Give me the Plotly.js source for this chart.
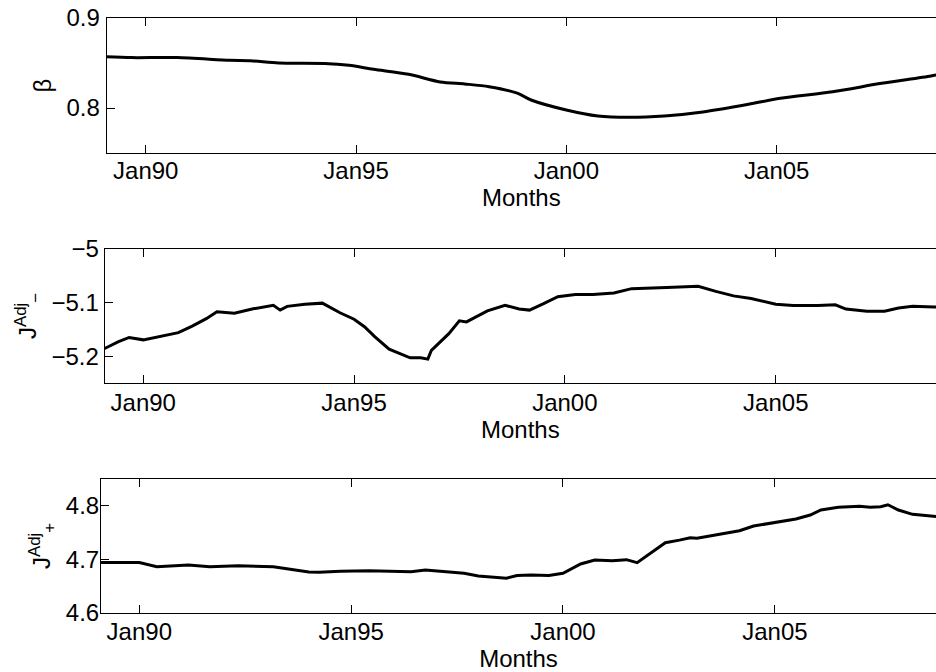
<!DOCTYPE html>
<html>
<head>
<meta charset="utf-8">
<script src="https://cdn.plot.ly/plotly-3.0.1.min.js"></script>
<style>html,body{margin:0;padding:0;background:#fff;}#chart{width:936px;height:672px;}</style>
</head>
<body>
<div id="chart"></div>
<script>
// ---- data ----
const betaDates = ['1989-01','1989-09','1990-10','1992-01','1992-07','1993-03','1994-04','1994-11','1995-06','1996-04','1997-01','1997-08','1998-03','1998-11','1999-03','2000-01','2000-10','2001-07','2002-05','2003-04','2004-05','2005-02','2006-05','2007-07','2008-09','2008-12'];
const betaValues = [0.857,0.856,0.856,0.853,0.8525,0.850,0.8495,0.8474,0.843,0.8374,0.829,0.8267,0.8237,0.8165,0.8089,0.7978,0.7911,0.7896,0.7911,0.7956,0.8041,0.8108,0.8181,0.8274,0.8356,0.838];

const jMinusDates = ['1989-01','1989-02','1989-06','1989-09','1990-01','1990-07','1990-11','1991-03','1991-07','1991-10','1992-03','1992-08','1993-02','1993-04','1993-06','1993-11','1994-04','1994-09','1995-01','1995-04','1995-07','1995-11','1996-05','1996-08','1996-10','1996-11','1997-04','1997-07','1997-09','1998-03','1998-08','1998-12','1999-03','1999-07','1999-11','2000-04','2000-09','2001-03','2001-08','2002-06','2003-03','2003-08','2004-01','2004-06','2005-01','2005-06','2006-01','2006-06','2006-09','2007-03','2007-08','2007-12','2008-04','2008-10','2008-12'];
const jMinusValues = [-5.188,-5.1856,-5.173,-5.165,-5.1695,-5.162,-5.156,-5.144,-5.130,-5.117,-5.120,-5.112,-5.105,-5.114,-5.107,-5.103,-5.101,-5.119,-5.131,-5.145,-5.164,-5.187,-5.203,-5.203,-5.2055,-5.189,-5.158,-5.134,-5.136,-5.1155,-5.105,-5.112,-5.114,-5.102,-5.089,-5.085,-5.085,-5.082,-5.074,-5.072,-5.0695,-5.079,-5.0875,-5.0925,-5.103,-5.1055,-5.1055,-5.104,-5.112,-5.116,-5.116,-5.110,-5.107,-5.108,-5.108];

const jPlusDates = ['1989-01','1990-01','1990-06','1991-03','1991-09','1992-05','1993-03','1993-07','1994-01','1994-04','1994-10','1995-06','1996-01','1996-06','1996-10','1997-03','1997-09','1998-01','1998-06','1998-09','1998-12','1999-04','1999-09','2000-01','2000-06','2000-10','2001-03','2001-07','2001-10','2002-01','2002-06','2002-10','2003-01','2003-03','2003-09','2004-03','2004-07','2005-01','2005-07','2005-11','2006-02','2006-07','2007-01','2007-04','2007-07','2007-09','2007-12','2008-04','2008-10','2008-12'];
const jPlusValues = [4.694,4.694,4.6864,4.6896,4.6864,4.688,4.6864,4.682,4.6765,4.676,4.678,4.679,4.678,4.677,4.680,4.677,4.674,4.669,4.666,4.665,4.670,4.671,4.670,4.674,4.6914,4.699,4.6976,4.6995,4.694,4.708,4.731,4.736,4.7405,4.7394,4.7468,4.7536,4.7623,4.7685,4.7754,4.7828,4.7922,4.7972,4.799,4.7972,4.7983,4.802,4.7922,4.7841,4.7797,4.779];

const xTickVals = ['1990-01-01','1995-01-01','2000-01-01','2005-01-01'];
const xTickText = ['Jan90','Jan95','Jan00','Jan05'];
const betaTicks = [0.8, 0.9];
const jMinusTicks = [-5.2, -5.1, -5];
const jPlusTicks = [4.6, 4.7, 4.8];

const xTitle = 'Months';
const yTitles = ['β', 'J<sup>Adj</sup><sub>−</sub>', 'J<sup>Adj</sup><sub>+</sub>'];

// ---- drawing ----
const fam = 'Liberation Sans, Arial, Helvetica, sans-serif';
const tickFont = {family: fam, size: 24, color: '#000'};
const titleFont = {family: fam, size: 24, color: '#000'};
const lineStyle = {color: '#000', width: 3};

const traces = [
  {x: betaDates, y: betaValues, xaxis: 'x', yaxis: 'y', type: 'scatter', mode: 'lines', line: Object.assign({shape: 'spline', smoothing: 0.8}, lineStyle)},
  {x: jMinusDates, y: jMinusValues, xaxis: 'x2', yaxis: 'y2', type: 'scatter', mode: 'lines', line: lineStyle},
  {x: jPlusDates, y: jPlusValues, xaxis: 'x3', yaxis: 'y3', type: 'scatter', mode: 'lines', line: lineStyle}
];

function xAxis(domain, range, anchor, standoff) {
  return {
    domain: domain, range: range, type: 'date', anchor: anchor,
    tickmode: 'array', tickvals: xTickVals, ticktext: xTickText,
    ticks: 'inside', ticklen: 8, tickwidth: 1, tickcolor: '#000',
    showline: true, linecolor: '#000', linewidth: 1, mirror: 'ticks',
    showgrid: false, zeroline: false, tickfont: tickFont,
    ticklabelstandoff: standoff,
    title: {text: xTitle, font: titleFont, standoff: 0}
  };
}
function yAxis(domain, range, anchor, vals, title, standoff) {
  return {
    domain: domain, range: range, anchor: anchor,
    tickmode: 'array', tickvals: vals,
    ticks: 'inside', ticklen: 8, tickwidth: 1, tickcolor: '#000',
    showline: true, linecolor: '#000', linewidth: 1, mirror: false,
    showgrid: false, zeroline: false, tickfont: tickFont,
    ticklabelstandoff: standoff,
    title: {text: title, font: titleFont, standoff: 8}
  };
}

const W = 936, H = 672;
const layout = {
  width: W, height: H,
  margin: {l: 0, r: 0, t: 0, b: 0, pad: 0},
  paper_bgcolor: '#fff', plot_bgcolor: '#fff',
  showlegend: false,
  xaxis:  xAxis([106.7 / W, 1], ['1989-01-27', '2008-10-15'], 'y', -4),
  xaxis2: xAxis([104.7 / W, 1], ['1989-02-01', '2008-10-20'], 'y2', -2),
  xaxis3: xAxis([101 / W, 1], ['1989-02-05', '2008-10-20'], 'y3', -3),
  yaxis:  yAxis([1 - 153 / H, 1 - 18 / H], [0.75, 0.9], 'x', betaTicks, yTitles[0], 1),
  yaxis2: yAxis([1 - 383 / H, 1 - 249 / H], [-5.25, -5], 'x2', jMinusTicks, yTitles[1], 0),
  yaxis3: yAxis([1 - 613 / H, 1 - 479 / H], [4.6, 4.85], 'x3', jPlusTicks, yTitles[2], -4)
};

Plotly.newPlot('chart', traces, layout, {displayModeBar: false, staticPlot: true});
</script>
</body>
</html>
